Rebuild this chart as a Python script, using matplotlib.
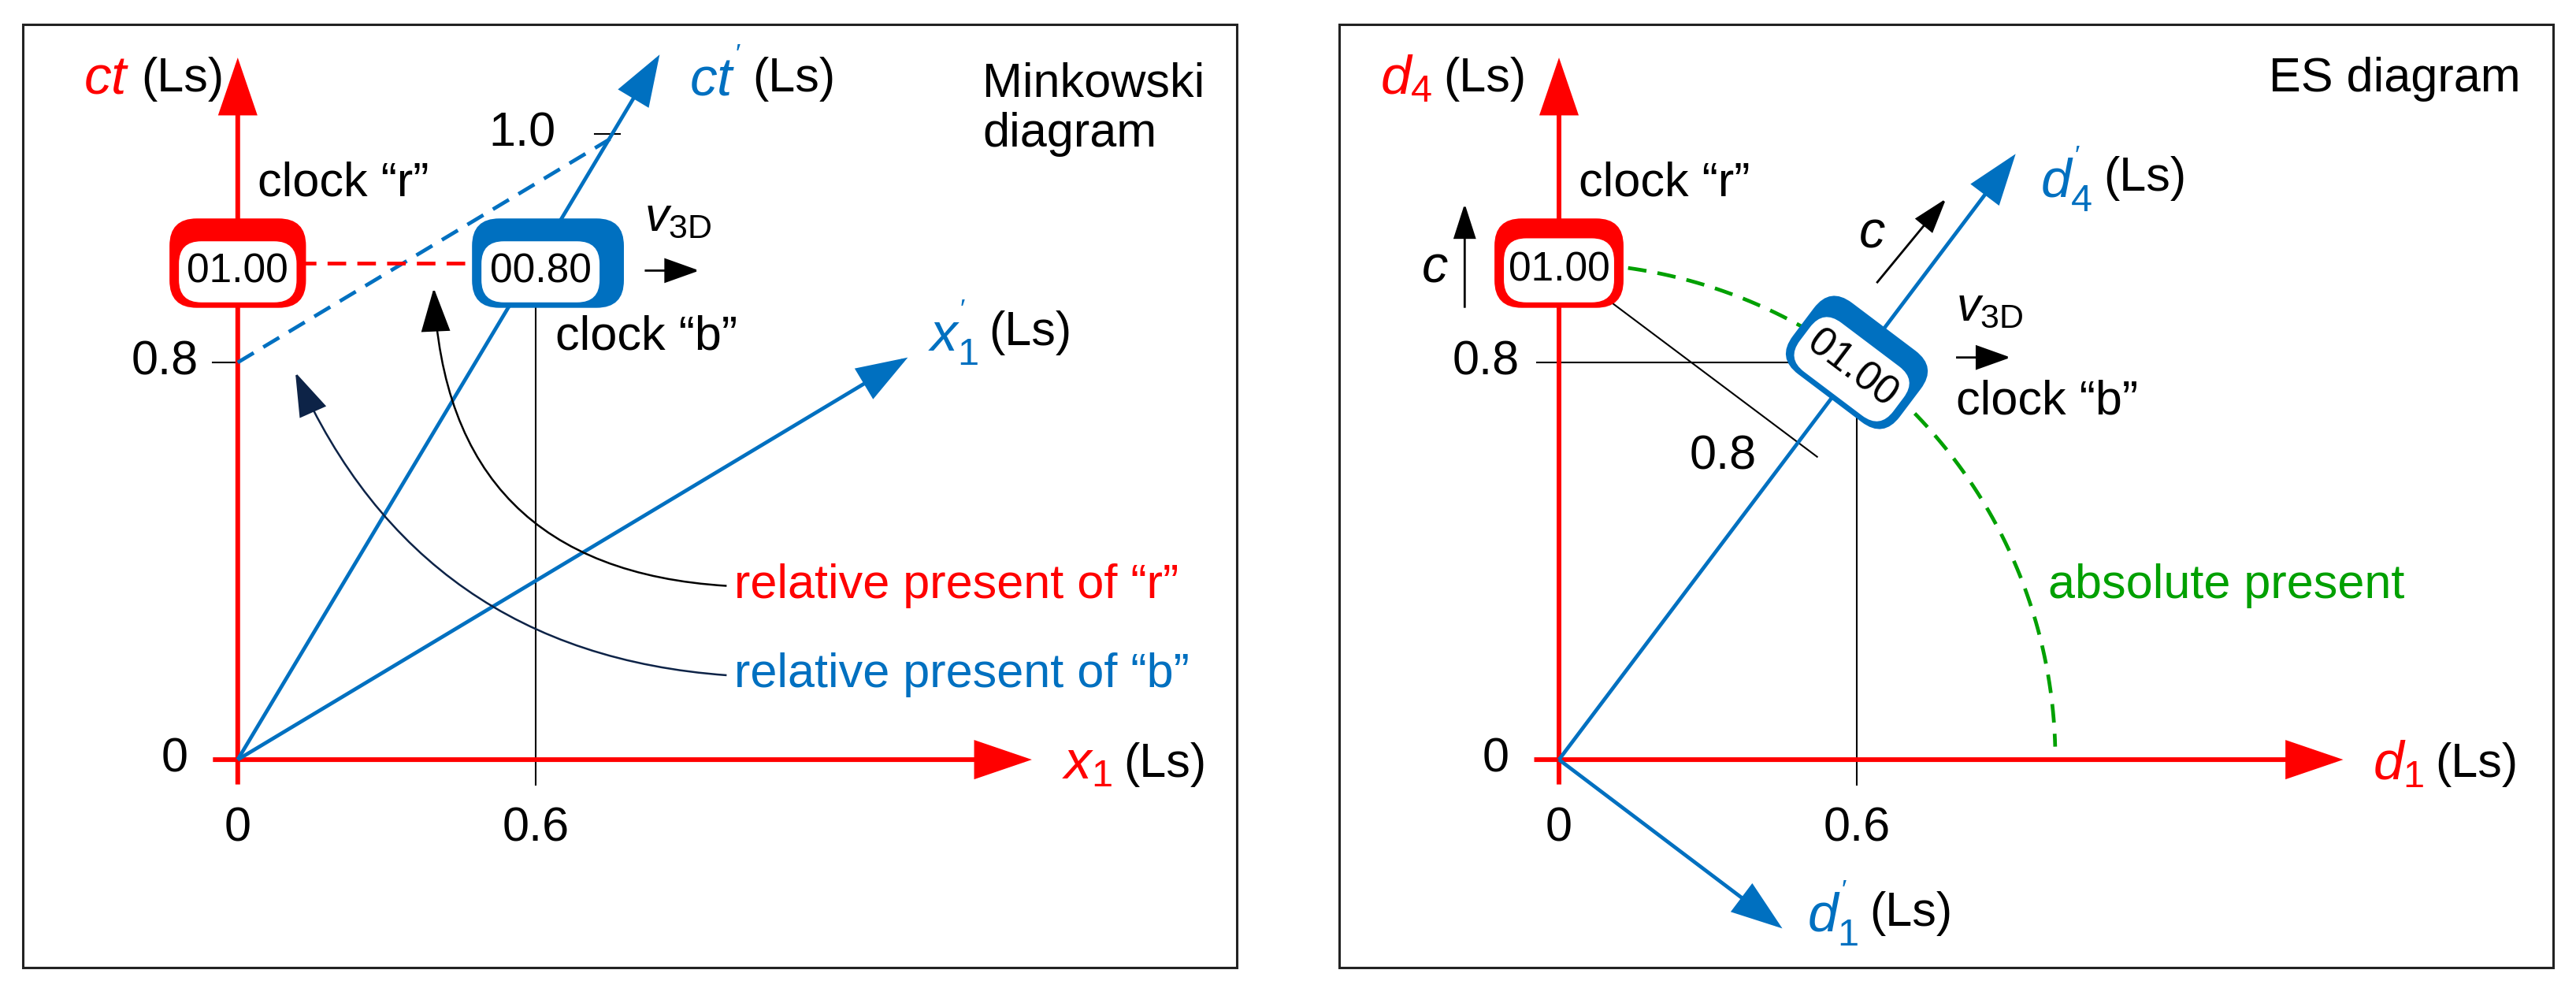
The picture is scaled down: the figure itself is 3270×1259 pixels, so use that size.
import numpy as np
import matplotlib
matplotlib.use('Agg')
from matplotlib import pyplot as plt
from matplotlib.patches import FancyArrowPatch, FancyBboxPatch, Rectangle
from matplotlib.transforms import Affine2D

plt.rcParams['font.family'] = ['Liberation Sans Narrow', 'Liberation Sans', 'DejaVu Sans']
plt.rcParams['mathtext.fontset'] = 'custom'
plt.rcParams['mathtext.rm'] = 'Liberation Sans'
plt.rcParams['mathtext.it'] = 'Liberation Sans:italic'

RED = '#ff0000'
BLUE = '#0070c0'
GREEN = '#00a000'
NAVY = '#0d2347'

# --- data (light-seconds) ---
v = 0.6                      # speed of clock "b"
ct_tick = [0.8, 1.0]         # tick values on ct axis
x_tick = [0.0, 0.6]
clock_r_reading = '01.00'
clock_b_reading_mink = '00.80'
clock_b_reading_es = '01.00'
present_r = [(-0.0, 1.0), (0.6, 1.0)]        # relative present of r (ct = 1)
present_b = [(0.0, 0.8), (0.75, 1.25)]       # relative present of b
ct_prime_tip = (0.85, 1.42)
x_prime_tip = (1.35, 0.81)
es_d4p_tip = (0.92, 1.22)
es_d1p_tip = (0.45, -0.34)
es_clock_b = (0.6, 0.8)
abs_present_radius = 1.0

FS = 44
fig = plt.figure(figsize=(32.7, 12.59), dpi=100)
axL = fig.add_axes([0, 0, 0.5, 1])
axR = fig.add_axes([0.5, 0, 0.5, 1])
axL.set_xlim(-0.479, 2.116)
axR.set_xlim(-0.546, 2.049)
for ax in (axL, axR):
    ax.set_ylim(-0.468, 1.530)
    ax.axis('off')

axL.add_patch(Rectangle((0.018, 0.025), 0.942, 0.95, transform=axL.transAxes,
                        fill=False, lw=2.2, ec='#222222'))
axR.add_patch(Rectangle((0.040, 0.025), 0.942, 0.95, transform=axR.transAxes,
                        fill=False, lw=2.2, ec='#222222'))


def arrow(ax, p0, p1, color, lw, hl, hw, rad=0.0, z=3):
    a = FancyArrowPatch(p0, p1, arrowstyle=f'-|>,head_length={hl},head_width={hw}',
                        connectionstyle=f'arc3,rad={rad}', color=color, lw=lw,
                        mutation_scale=1, shrinkA=0, shrinkB=0, zorder=z,
                        joinstyle='miter', capstyle='butt')
    ax.add_patch(a)


def axis_label(ax, x, y, var, color):
    t = ax.text(x, y, var, color=color, fontsize=FS + 6, va='center', ha='left')
    ax.annotate('(Ls)', xy=(1, 0.5), xycoords=t, xytext=(10, 0),
                textcoords='offset points', fontsize=FS, va='center', ha='left')


def clock(ax, cx, cy, color, reading, angle=0.0, w=0.275, h=0.18,
          pad=(0.019, 0.019, 0.046, 0.011)):
    # pad = left, right, top, bottom border widths
    tr = Affine2D().rotate_deg_around(cx, cy, angle) + ax.transData
    outer = FancyBboxPatch((cx - w / 2, cy - h / 2), w, h,
                           boxstyle='round,pad=0,rounding_size=0.055',
                           fc=color, ec='none', zorder=6, transform=tr)
    l, r, t, b = pad
    iw, ih = w - l - r, h - t - b
    inner = FancyBboxPatch((cx - w / 2 + l, cy - h / 2 + b), iw, ih,
                           boxstyle='round,pad=0,rounding_size=0.045',
                           fc='white', ec='none', zorder=7, transform=tr)
    ax.add_patch(outer)
    ax.add_patch(inner)
    ax.text(cx - w / 2 + l + iw / 2, cy - h / 2 + b + ih / 2, reading, fontsize=37,
            ha='center', va='center', rotation=angle, rotation_mode='anchor',
            zorder=8, transform=tr)


# ================= Minkowski diagram =================
ax = axL
arrow(ax, (0, -0.05), (0, 1.414), RED, 4.3, 44, 15)
arrow(ax, (-0.05, 0), (1.60, 0), RED, 4.3, 44, 15)
arrow(ax, (0, 0), ct_prime_tip, BLUE, 3.4, 40, 14)
arrow(ax, (0, 0), x_prime_tip, BLUE, 3.4, 40, 14)

ax.plot([0.6, 0.6], [-0.05, 0.95], color='black', lw=1.5, zorder=2)
ax.plot([-0.05, 0], [0.8, 0.8], color='black', lw=1.5)
ax.plot([0.72, 0.77], [1.26, 1.26], color='black', lw=1.5)
ax.plot(*zip(*present_b), color=BLUE, lw=3.4, ls=(0, (5, 3)), zorder=4)
ax.plot(*zip(*present_r), color=RED, lw=3.4, ls=(0, (5, 3)), zorder=4)

clock(ax, 0.0, 1.0, RED, clock_r_reading)
clock(ax, 0.625, 1.0, BLUE, clock_b_reading_mink, w=0.306,
      pad=(0.019, 0.049, 0.046, 0.011))

axis_label(ax, -0.31, 1.37, r'$ct$', RED)
axis_label(ax, 0.91, 1.37, r"$ct^\mathrm{'}$", BLUE)
axis_label(ax, 1.39, 0.86, r"$x_\mathrm{1}^\mathrm{'}$", BLUE)
axis_label(ax, 1.66, -0.01, r'$x_\mathrm{1}$', RED)
ax.text(1.50, 1.31, 'Minkowski\ndiagram', fontsize=FS, va='center', ha='left',
        linespacing=1.15)
ax.text(0.64, 1.26, '1.0', fontsize=FS, va='center', ha='right')
ax.text(-0.08, 0.8, '0.8', fontsize=FS, va='center', ha='right')
ax.text(-0.1, 0, '0', fontsize=FS, va='center', ha='right')
for xv in x_tick:
    ax.text(xv, -0.14, f'{xv:g}', fontsize=FS, va='center', ha='center')
ax.text(0.04, 1.16, 'clock \u201cr\u201d', fontsize=FS, va='center', ha='left')
ax.text(0.64, 0.85, 'clock \u201cb\u201d', fontsize=FS, va='center', ha='left')
ax.text(0.82, 1.09, r'$v_\mathrm{3D}$', fontsize=FS, va='center', ha='left')
arrow(ax, (0.82, 0.985), (0.93, 0.985), 'black', 2.0, 28, 10)

ax.text(1.0, 0.35, 'relative present of \u201cr\u201d', fontsize=FS, color=RED,
        va='center', ha='left')
ax.text(1.0, 0.17, 'relative present of \u201cb\u201d', fontsize=FS, color=BLUE,
        va='center', ha='left')
arrow(ax, (0.985, 0.35), (0.395, 0.95), 'black', 1.8, 36, 12, rad=-0.45)
arrow(ax, (0.985, 0.17), (0.116, 0.78), NAVY, 1.8, 36, 12, rad=-0.3)

# ================= ES diagram =================
ax = axR
arrow(ax, (0, -0.05), (0, 1.414), RED, 4.3, 44, 15)
arrow(ax, (-0.05, 0), (1.58, 0), RED, 4.3, 44, 15)
arrow(ax, (0, 0), es_d4p_tip, BLUE, 3.4, 40, 14)
arrow(ax, (0, 0), es_d1p_tip, BLUE, 3.4, 40, 14)

theta = np.linspace(np.deg2rad(82), np.deg2rad(1.5), 100)
ax.plot(abs_present_radius * np.cos(theta), abs_present_radius * np.sin(theta),
        color=GREEN, lw=3.4, ls=(0, (5, 3)), zorder=4)

ax.plot([-0.045, 0.5], [0.8, 0.8], color='black', lw=1.5, zorder=2)
ax.plot([0.6, 0.6], [-0.05, 0.75], color='black', lw=1.5, zorder=2)
t = np.array([0.13, 0.65])
ax.plot(0.8 * t, 1 - 0.6 * t, color='black', lw=1.5, zorder=2)

clock(ax, 0.0, 1.0, RED, clock_r_reading, w=0.26, pad=(0.019, 0.019, 0.04, 0.011))
ang = np.rad2deg(np.arctan2(es_d4p_tip[1], es_d4p_tip[0])) - 90
clock(ax, es_clock_b[0], es_clock_b[1], BLUE, clock_b_reading_es, angle=ang, w=0.27,
      pad=(0.017, 0.017, 0.045, 0.011))

axis_label(ax, -0.36, 1.37, r'$d_\mathrm{4}$', RED)
axis_label(ax, 0.97, 1.17, r"$d_\mathrm{4}^\mathrm{'}$", BLUE)
axis_label(ax, 1.64, -0.01, r'$d_\mathrm{1}$', RED)
axis_label(ax, 0.5, -0.31, r"$d_\mathrm{1}^\mathrm{'}$", BLUE)
ax.text(1.43, 1.37, 'ES diagram', fontsize=FS, va='center', ha='left')
ax.text(-0.08, 0.8, '0.8', fontsize=FS, va='center', ha='right')
ax.text(-0.1, 0, '0', fontsize=FS, va='center', ha='right')
for xv in x_tick:
    ax.text(xv, -0.14, f'{xv:g}', fontsize=FS, va='center', ha='center')
ax.text(0.33, 0.61, '0.8', fontsize=FS, va='center', ha='center')
ax.text(0.04, 1.16, 'clock \u201cr\u201d', fontsize=FS, va='center', ha='left')
ax.text(0.8, 0.72, 'clock \u201cb\u201d', fontsize=FS, va='center', ha='left')
ax.text(0.8, 0.91, r'$v_\mathrm{3D}$', fontsize=FS, va='center', ha='left')
arrow(ax, (0.8, 0.81), (0.91, 0.81), 'black', 2.0, 28, 10)
arrow(ax, (-0.19, 0.91), (-0.19, 1.12), 'black', 2.0, 28, 9)
ax.text(-0.25, 0.99, r'$c$', fontsize=FS + 4, va='center', ha='center')
arrow(ax, (0.64, 0.96), (0.78, 1.13), 'black', 2.0, 28, 9)
ax.text(0.63, 1.06, r'$c$', fontsize=FS + 4, va='center', ha='center')
ax.text(0.985, 0.35, 'absolute present', fontsize=FS, color=GREEN,
        va='center', ha='left')

fig.savefig('out.png', dpi=100)
